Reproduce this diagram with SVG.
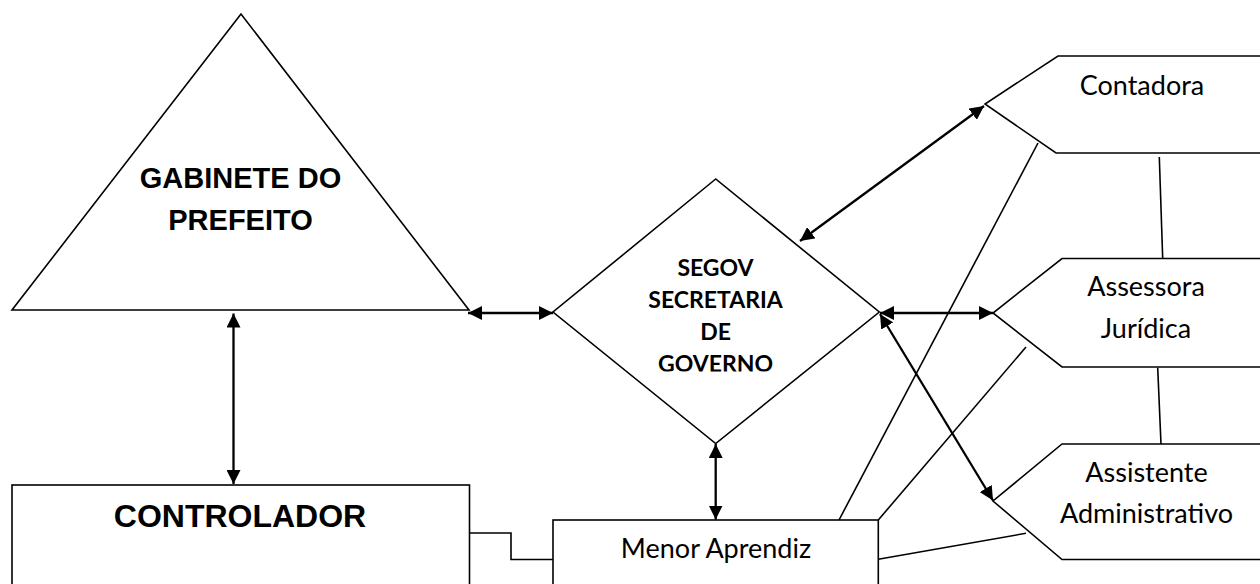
<svg xmlns="http://www.w3.org/2000/svg" width="1260" height="584" viewBox="0 0 1260 584">
<style>
.shape{fill:#fff;stroke:#000;stroke-width:1.6}
.line{fill:none;stroke:#000;stroke-width:1.6}
.arrow{fill:none;stroke:#000;stroke-width:2.3;marker-start:url(#ah);marker-end:url(#ah)}
.arial{font-family:"Liberation Sans",Arial,sans-serif;font-weight:bold;text-anchor:middle;fill:#000}
.cal{font-family:Lato,"Open Sans",sans-serif;font-size:27px;text-anchor:middle;fill:#000}
.calb{font-family:Lato,"Open Sans",sans-serif;font-weight:bold;font-size:23px;text-anchor:middle;fill:#000}
</style>
<defs>
<marker id="ah" viewBox="0 0 14 14" refX="14" refY="7" markerWidth="14" markerHeight="14" markerUnits="userSpaceOnUse" orient="auto-start-reverse">
<path d="M0,0 L14,7 L0,14 z" fill="#000"/>
</marker>
<clipPath id="dclip"><rect x="553" y="179" width="327" height="192.5"/></clipPath>
</defs>
<rect width="1260" height="584" fill="#fff"/>
<g id="gabinete">
<polygon class="shape" points="241,14 12,310 469,310"/>
<text class="arial" x="240.5" y="188" font-size="29">GABINETE DO</text>
<text class="arial" x="240.5" y="230" font-size="29">PREFEITO</text>
</g>
<g id="controlador">
<rect class="shape" x="12" y="485" width="457.5" height="120"/>
<text class="arial" x="240" y="527" font-size="32">CONTROLADOR</text>
</g>
<g id="segov">
<polygon class="shape" points="715.7,179 553,312 715.7,443.5 879.3,312"/>
<g clip-path="url(#dclip)">
<text class="calb" x="715.5" y="275.5">SEGOV</text>
<text class="calb" x="715.5" y="308">SECRETARIA</text>
<text class="calb" x="715.5" y="340">DE</text>
<text class="calb" x="715.5" y="372.4">GOVERNO</text>
</g>
</g>
<g id="menor">
<rect class="shape" x="553" y="520" width="325.3" height="80"/>
<text class="cal" x="716" y="558.3">Menor Aprendiz</text>
</g>
<g id="contadora">
<path class="shape" d="M1262,56 L1058,56 L985,104 L1056,153 L1262,153"/>
<text class="cal" x="1142" y="95">Contadora</text>
</g>
<g id="assessora">
<path class="shape" d="M1262,258.5 L1062,258.5 L993,313 L1062,367 L1262,367"/>
<text class="cal" x="1146" y="296">Assessora</text>
<text class="cal" x="1146" y="338">Jurídica</text>
</g>
<g id="assistente">
<path class="shape" d="M1262,444 L1062,444 L993,501 L1062,559.5 L1262,559.5"/>
<text class="cal" x="1146.5" y="481.7">Assistente</text>
<text class="cal" x="1146.5" y="522.7">Administrativo</text>
</g>
<g id="connectors">
<line class="arrow" x1="468" y1="313" x2="553" y2="313"/>
<line class="arrow" x1="233.5" y1="313.5" x2="233.5" y2="484"/>
<line class="arrow" x1="800" y1="241" x2="984" y2="106"/>
<line class="arrow" x1="880" y1="313" x2="993" y2="313"/>
<line class="arrow" x1="880" y1="314" x2="993" y2="500.5"/>
<line class="arrow" x1="715.7" y1="444" x2="715.7" y2="519.5"/>
<polyline class="line" points="469.5,533 511,533 511,559.5 553,559.5"/>
<line class="line" x1="1159.3" y1="157" x2="1162.7" y2="258.5"/>
<line class="line" x1="1157.7" y1="367.7" x2="1161" y2="444"/>
<line class="line" x1="839" y1="520" x2="1038" y2="143"/>
<line class="line" x1="878.3" y1="520" x2="1026" y2="347"/>
<line class="line" x1="878.3" y1="559.3" x2="1026" y2="533.3"/>
</g>
</svg>
